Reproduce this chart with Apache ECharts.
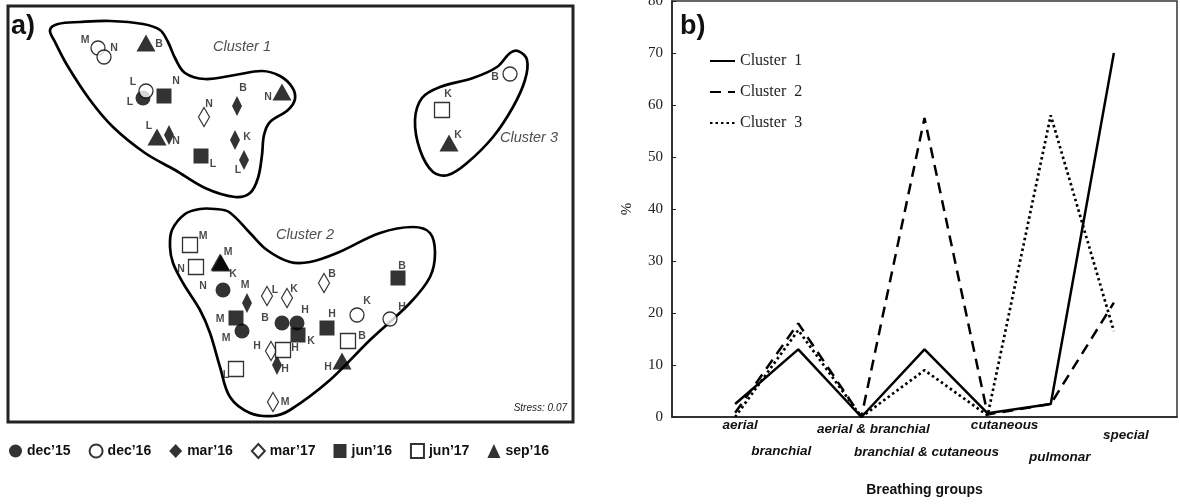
<!DOCTYPE html>
<html><head><meta charset="utf-8">
<script src="https://cdn.jsdelivr.net/npm/echarts@6/dist/echarts.min.js"></script>
<style>html,body{margin:0;padding:0;background:#fff}#c{width:1180px;height:504px}</style>
</head><body><div id="c"></div>
<script>
// ---------- Panel a: NMDS ordination (arbitrary ordination units) ----------
const dec15 = [[143,98,'L'],[223,290,'N'],[242,331,'M'],[282,323,'B'],[297,323,'H']];
const dec16 = [[98,48,'M'],[104,57,'N'],[146,91,'L'],[510,74,'B'],[357,315,'K'],[390,319,'H']];
const mar16 = [[237,106,'B'],[169,135,'N'],[235,140,'K'],[244,160,'L'],[247,303,'M'],[277,365,'H']];
const mar17 = [[204,117,'N'],[267,296,'L'],[287,298,'K'],[324,283,'B'],[271,351,'H'],[273,402,'M']];
const jun16 = [[164,96,'N'],[201,156,'L'],[398,278,'B'],[236,318,'M'],[298,335,'K'],[327,328,'H']];
const jun17 = [[190,245,'M'],[196,267,'N'],[348,341,'B'],[283,350,'H'],[236,369,'L'],[442,110,'K']];
const sep16 = [[146,43,'B'],[282,92,'N'],[157,137,'L'],[220,262,'M'],[221,263,'K'],[449,143,'K'],[342,361,'H']];

// cluster envelopes (ordination units)
const cluster1Outline = [[50,30],[58,24],[80,22],[110,21],[143,24],[160,30],[168,42],[175,58],[185,73],[205,79],[235,75],[262,71],[280,76],[292,87],[295,99],[288,110],[270,122],[264,135],[262,155],[258,178],[250,193],[235,197],[205,188],[175,170],[145,153],[113,127],[90,100],[67,65],[55,42]];
const cluster2Outline = [[200,209],[215,209],[229,212],[250,233],[267,250],[290,262],[310,262],[337,253],[380,233],[413,227],[430,233],[435,253],[430,277],[410,303],[370,340],[330,380],[290,410],[273,416],[250,413],[230,397],[220,367],[210,333],[200,310],[183,283],[173,263],[170,247],[172,230],[185,214]];
const cluster3Outline = [[510,53],[518,51],[527,60],[525,80],[513,107],[493,137],[467,163],[448,175],[433,172],[420,150],[415,120],[422,98],[440,87],[473,78],[497,67]];

const clusterNames = ['Cluster 1','Cluster 2','Cluster 3'];

// ---------- Panel b: breathing groups ----------
const categories = ['aerial','branchial','aerial & branchial','branchial & cutaneous','cutaneous','pulmonar','special'];
const cluster1 = [2.5, 13, 0, 13, 0.7, 2.5, 70];
const cluster2 = [0.8, 18, 0, 57.5, 0.5, 2.5, 22];
const cluster3 = [0, 16.7, 0, 9, 0.3, 58, 16.5];
const yTicks = [0,10,20,30,40,50,60,70,80];

// ---------- layout-only helpers (label placement) ----------
const dec15Off = [[-13,4],[-20,-4],[-16,7],[-17,-5],[8,-13]];
const dec16Off = [[-13,-8],[10,-9],[-13,-9],[-15,3],[10,-14],[12,-12]];
const mar16Off = [[6,-18],[7,6],[12,-3],[-6,10],[-2,-18],[8,4]];
const mar17Off = [[5,-13],[8,-6],[7,-9],[8,-9],[-14,-5],[12,0]];
const jun16Off = [[12,-15],[12,8],[4,-12],[-16,1],[13,6],[5,-14]];
const jun17Off = [[13,-9],[-15,2],[14,-5],[12,-2],[-10,6],[6,-16]];
const sep16Off = [[13,1],[-14,5],[-8,-11],[8,-10],[12,11],[9,-8],[-14,6]];
const clusterNamePos = [[242,47],[305,235],[529,138]];
const xLabelShift = [5,-17,12,2,17,9,12];
const xLabelDrop = [8,34,12,35,8,40,18];

const INK = '#000';
const groups = [
  {name:'dec’15', symbol:'circle', size:15, filled:true, pts:dec15, off:dec15Off},
  {name:'dec’16', symbol:'circle', size:14, filled:false, pts:dec16, off:dec16Off},
  {name:'mar’16', symbol:'diamond', size:[10,20], filled:true, pts:mar16, off:mar16Off},
  {name:'mar’17', symbol:'diamond', size:[11,19], filled:false, pts:mar17, off:mar17Off},
  {name:'jun’16', symbol:'rect', size:15, filled:true, pts:jun16, off:jun16Off},
  {name:'jun’17', symbol:'rect', size:15, filled:false, pts:jun17, off:jun17Off},
  {name:'sep’16', symbol:'triangle', size:[19,17], filled:true, pts:sep16, off:sep16Off}
];

const scatterSeries = groups.map(g => ({
  type:'scatter', name:g.name, xAxisIndex:0, yAxisIndex:0,
  symbol:g.symbol, symbolSize:g.size, z:3,
  itemStyle: g.filled ? {color:INK} : {color:'#fff', borderColor:INK, borderWidth:1.3},
  label:{show:true, position:'inside', color:'#1a1a1a', fontFamily:'Liberation Sans', fontWeight:'bold', fontSize:10.5,
         formatter: p => p.data.name},
  emphasis:{disabled:true},
  data: g.pts.map((p,i) => ({name:p[2], value:[p[0],p[1]], label:{offset:g.off[i]}}))
}));

const outlines = [cluster1Outline, cluster2Outline, cluster3Outline];

const option = {
  backgroundColor:'#fff',
  animation:false,
  grid:[
    {left:8, top:6, width:565, height:416, show:true, borderColor:'#222', borderWidth:3, backgroundColor:'#fff',
     outerBoundsMode:'none', containLabel:false},
    {left:672, top:1, width:505, height:416, show:true, borderColor:'#333', borderWidth:1.5,
     outerBoundsMode:'none', containLabel:false}
  ],
  xAxis:[
    {gridIndex:0, type:'value', min:8, max:573, show:false},
    {gridIndex:1, type:'value', min:0, max:8,
     axisLine:{show:true, onZero:false, lineStyle:{color:'#222', width:1.5}},
     axisTick:{show:false}, axisLabel:{show:false}, splitLine:{show:false},
     name:'Breathing groups', nameLocation:'middle', nameGap:66,
     nameTextStyle:{fontFamily:'Liberation Sans', fontWeight:'bold', fontSize:14, color:'#111'}}
  ],
  yAxis:[
    {gridIndex:0, type:'value', min:6, max:422, inverse:true, show:false},
    {gridIndex:1, type:'value', min:yTicks[0], max:yTicks[yTicks.length-1], interval:10,
     axisLine:{show:true, lineStyle:{color:'#222', width:1.5}},
     axisTick:{show:true, inside:true, length:4, lineStyle:{color:'#222'}},
     axisLabel:{fontFamily:'Liberation Serif', fontSize:15, color:'#222', margin:9, showMaxLabel:true},
     splitLine:{show:false},
     name:'%', nameLocation:'middle', nameGap:37, nameRotate:90,
     nameTextStyle:{fontFamily:'Liberation Serif', fontSize:15, color:'#222'}}
  ],
  legend:[
    {left:4, top:438, itemWidth:13, itemHeight:14, itemGap:18, selectedMode:false,
     data:[{name:'dec’15',icon:'circle'},{name:'dec’16',icon:'circle'},{name:'mar’16',icon:'diamond'},
           {name:'mar’17',icon:'diamond'},{name:'jun’16',icon:'rect'},{name:'jun’17',icon:'rect'},
           {name:'sep’16',icon:'triangle'}],
     textStyle:{fontFamily:'Liberation Sans', fontWeight:'bold', fontSize:14, color:'#111'}},
    {orient:'vertical', left:704, top:48, itemWidth:25, itemHeight:14, itemGap:15, selectedMode:false,
     itemStyle:{opacity:0},
     data:clusterNames, formatter: n => n.replace(' ', '  '),
     textStyle:{fontFamily:'Liberation Serif', fontSize:16, color:'#222'}}
  ],
  series:[
    {type:'custom', xAxisIndex:0, yAxisIndex:0, silent:true, clip:false, z:1,
     data: outlines.map((o,i) => [o[0][0], o[0][1], i]),
     renderItem:(params, api) => {
       const pts = outlines[params.dataIndex].map(p => api.coord(p));
       return {type:'polygon', shape:{points:pts, smooth:0.35},
               style:{fill:null, stroke:INK, lineWidth:2.7}};
     }},
    {type:'scatter', name:'notes', xAxisIndex:0, yAxisIndex:0, symbolSize:1, silent:true,
     itemStyle:{color:'rgba(0,0,0,0)'},
     label:{show:true, position:'inside', formatter:p => p.data.name, color:'#222',
            fontFamily:'Liberation Sans', fontStyle:'italic', fontSize:14.5},
     data: clusterNames.map((n,i) => ({name:n, value:clusterNamePos[i]}))},
    ...scatterSeries,
    {type:'line', name:'Cluster 1', xAxisIndex:1, yAxisIndex:1, symbol:'none',
     lineStyle:{color:INK, width:2.5, type:'solid'}, itemStyle:{color:INK},
     data: cluster1.map((v,i) => [i+1, v])},
    {type:'line', name:'Cluster 2', xAxisIndex:1, yAxisIndex:1, symbol:'none',
     lineStyle:{color:INK, width:2.5, type:[11,7]}, itemStyle:{color:INK},
     data: cluster2.map((v,i) => [i+1, v])},
    {type:'line', name:'Cluster 3', xAxisIndex:1, yAxisIndex:1, symbol:'none',
     lineStyle:{color:INK, width:2.7, type:[2.5,3]}, itemStyle:{color:INK},
     data: cluster3.map((v,i) => [i+1, v])}
  ]
};

const chart = echarts.init(document.getElementById('c'), null, {renderer:'canvas'});
chart.setOption(option);

const baseGraphic = [
  {type:'text', left:11, top:13, style:{text:'a)', font:'bold 27px "Liberation Sans"', fill:'#111'}},
  {type:'text', left:680, top:13, style:{text:'b)', font:'bold 27px "Liberation Sans"', fill:'#111'}},
  {type:'text', x:567, y:408, style:{text:'Stress: 0.07', font:'italic 10px "Liberation Sans"', fill:'#222',
     align:'right', textAlign:'right', verticalAlign:'middle', textVerticalAlign:'middle'}}
];
const catGraphic = categories.map((c,i) => {
  const p = chart.convertToPixel({xAxisIndex:1, yAxisIndex:1}, [i+1, 0]);
  return {type:'text', x:p[0]+xLabelShift[i], y:p[1]+xLabelDrop[i],
    style:{text:c, font:'italic bold 13.5px "Liberation Sans"', fill:'#111',
      align:'center', textAlign:'center', verticalAlign:'middle', textVerticalAlign:'middle'}};
});
chart.setOption({graphic: baseGraphic.concat(catGraphic)});
</script></body></html>
